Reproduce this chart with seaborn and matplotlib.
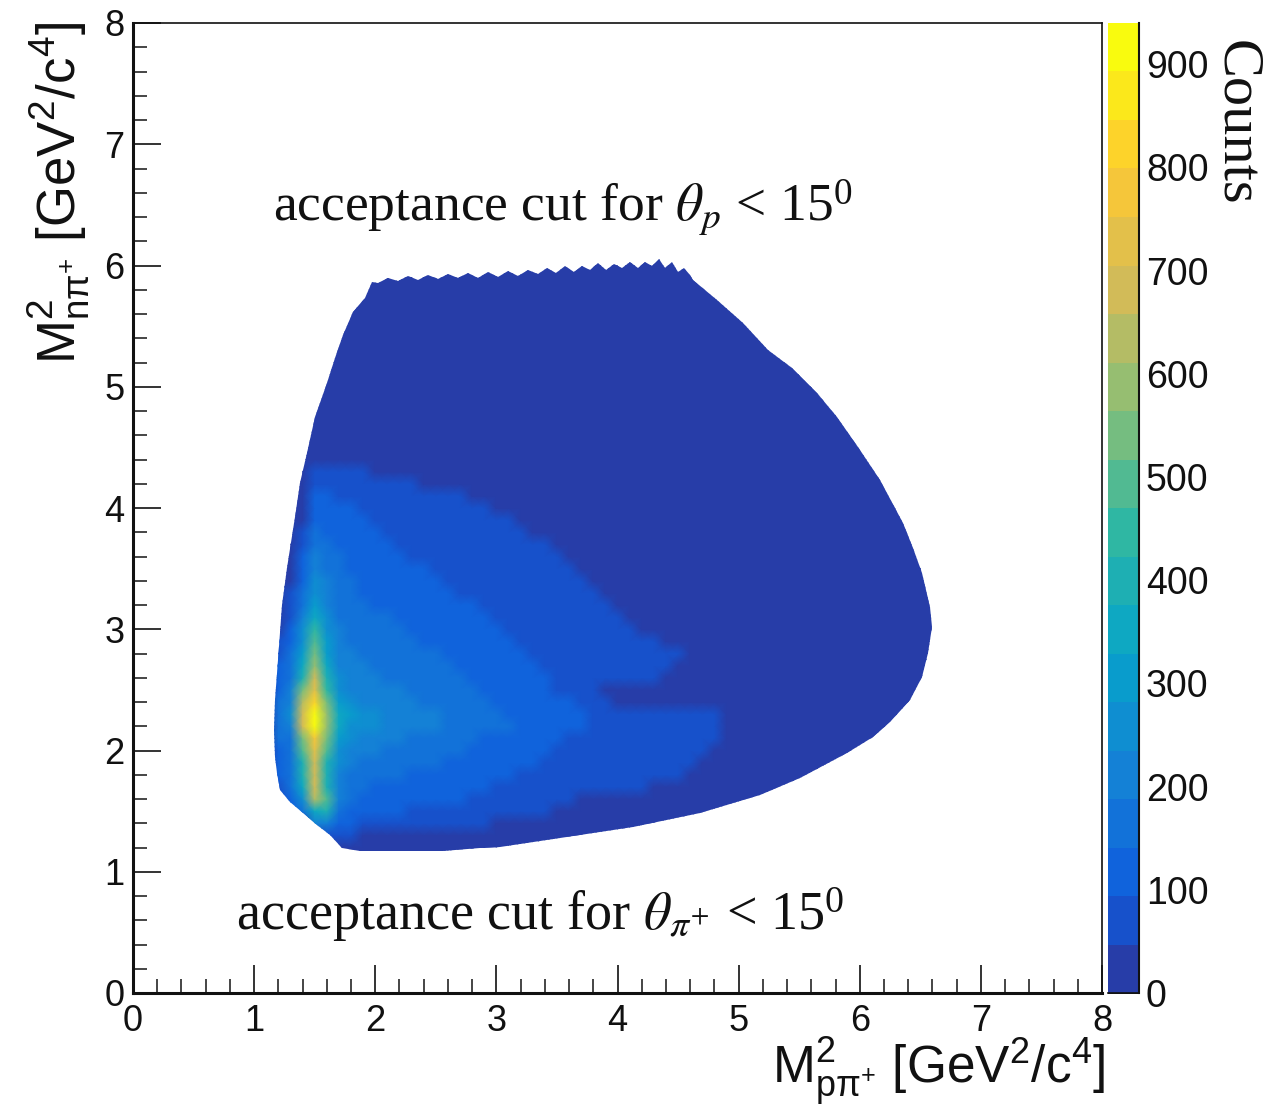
import numpy as np
import pandas as pd
import seaborn as sns
import matplotlib.pyplot as plt

from matplotlib.colors import LinearSegmentedColormap, ListedColormap
from matplotlib.patches import Polygon

# Counts, one list per row, each row starts at x = 1.1, step 0.1
y13 = [15,15,15,15,15,80,60,50,30]
y14 = [15,15,15,15,200,220,130,100,90,85,80,76,72,68,64,60,56,52,48,45]
y15 = [15,15,100,170,350,400,150,120,110,105,100,95,90,86,82,78,74,70,66,62,58,54,50,47,40]
y16 = [15,60,130,250,620,500,190,145,130,125,120,115,110,106,102,98,94,90,85,80,75,70,62,55,50,48,46]
y17 = [15,90,150,330,680,420,200,165,150,140,135,130,125,120,115,110,105,100,96,92,86,80,74,66,60,54,48,48,48,48,47,47,46]
y18 = [15,110,160,380,680,400,215,175,165,155,150,145,140,135,130,125,120,115,108,100,96,90,84,76,70,62,55,50,48,48,48,48,48,47,47,46]
y19 = [15,125,170,400,700,410,235,195,180,170,165,160,155,150,145,140,132,125,118,112,106,100,94,86,78,70,62,54,50,48,48,48,48,48,48,47,46]
y20 = [15,135,175,500,730,500,260,215,200,190,180,175,170,165,160,150,142,135,128,122,116,110,104,96,88,80,72,64,56,50,49,49,49,48,48,48,47,46]
y21 = [15,145,185,560,790,560,300,240,220,210,200,192,186,180,172,165,155,148,140,134,128,122,116,108,100,92,84,76,66,58,52,50,50,50,49,49,48,48,46]
y22 = [15,150,230,680,900,600,340,280,250,235,222,212,205,198,190,180,170,162,155,148,142,136,130,122,114,106,98,90,80,72,64,58,52,48,47,50,52,48]
y23 = [15,150,240,700,930,600,340,285,255,235,222,214,206,198,190,180,170,162,155,148,140,134,128,120,112,104,96,88,78,70,62,56,50,48,47,50,50,47]
y24 = [15,145,215,620,830,520,300,250,225,215,205,198,192,184,176,168,160,152,145,138,132,126,120,112,104,96,86,74,60,46]
y25 = [15,140,190,520,740,460,270,225,210,202,196,188,182,176,168,160,152,146,138,130,124,118,110,102,92,80,68,54,46,40]
y26 = [15,130,175,420,680,400,240,215,200,192,186,180,174,168,160,152,145,138,130,124,118,110,104,96,88,78,70,62,56,54,52,50,48,46]
y27 = [15,110,165,340,590,340,220,200,190,182,176,170,164,156,150,142,135,128,122,116,110,104,96,90,84,76,70,64,58,54,52,50,48,47,46]
y28 = [15,70,150,290,520,310,210,190,180,174,168,162,155,148,142,135,128,122,116,110,104,98,92,86,80,74,68,62,58,54,52,50,49,48,47,46]
y29 = [15,55,130,270,470,290,205,182,172,165,158,152,146,140,134,128,122,116,110,104,98,92,86,80,75,70,64,58,54,50,49,48,47,46]
y30 = [15,40,110,260,430,280,195,175,165,158,150,144,138,132,126,120,115,110,104,98,92,86,80,75,70,65,60,55,50,48,47,46]
y31 = [15,15,90,220,360,250,185,168,156,148,142,136,130,124,118,112,108,102,96,90,85,80,75,70,65,60,55,50,48,47,46]
y32 = [15,15,70,180,320,230,175,160,148,140,134,128,122,116,110,104,100,95,90,85,80,75,70,65,60,55,50,48,47,46]
y33 = [15,15,50,160,280,215,165,150,140,132,126,120,114,108,102,97,92,88,83,78,74,70,65,60,55,50,48,47,46]
y34 = [15,15,30,140,250,200,158,142,132,124,118,112,106,100,95,90,85,80,76,72,68,64,60,55,50,48,47,46]
y35 = [15,15,15,120,225,185,150,135,125,118,112,106,100,95,90,85,80,75,72,68,64,60,56,52,48,47,46]
y36 = [15,15,15,95,200,170,142,128,118,110,104,98,93,88,84,80,75,70,66,62,58,54,50,48,47,46]
y37 = [15,15,15,75,175,155,132,120,110,103,98,92,87,82,78,74,70,66,62,58,54,50,48,47,46]
y38 = [15,15,15,55,150,140,122,112,103,96,90,85,80,76,72,68,64,60,56,52,49,47,46]
y39 = [15,15,15,40,130,125,112,104,96,90,84,79,74,70,66,62,58,54,50,48,47,46]
y40 = [15,15,15,15,115,112,102,95,90,84,78,73,68,64,60,56,52,49,47,46]
y41 = [15,15,15,15,100,100,92,86,80,75,70,65,60,56,52,49,47,46]
y42 = [15,15,15,15,80,88,80,72,66,60,55,50,47,45]
y43 = [15,15,15,15,60,70,62,54,49,46]
y44 = [15,15,15,15,35,45,40]

hot_rows = [y13, y14, y15, y16, y17, y18, y19, y20, y21, y22, y23, y24, y25, y26, y27, y28,
            y29, y30, y31, y32, y33, y34, y35, y36, y37, y38, y39, y40, y41, y42, y43, y44]
background_counts = 15
max_counts = 940

# Outline of the allowed region: lower edge, right side, rough top, left side
edge_x = [1.173, 1.189, 1.214, 1.296, 1.404, 1.519, 1.627, 1.726, 1.874, 2.56, 2.865, 3.03, 3.526, 4.129,
          4.682, 5.178, 5.508, 5.896, 6.11, 6.251, 6.416, 6.515, 6.565, 6.598, 6.581, 6.515,
          6.441, 6.358, 6.169, 6.003, 5.813, 5.648, 5.442, 5.244, 5.037, 4.822, 4.624,
          4.600, 4.550, 4.500, 4.451, 4.393, 4.344, 4.286, 4.228, 4.170, 4.104, 4.038, 3.972, 3.906,
          3.840, 3.774, 3.708, 3.642, 3.567, 3.493, 3.419, 3.344, 3.262, 3.179, 3.097, 3.014, 2.931,
          2.849, 2.766, 2.684, 2.601, 2.519, 2.436, 2.353, 2.271, 2.188, 2.106, 2.023, 1.974,
          1.916, 1.817, 1.734, 1.668, 1.602, 1.503, 1.437, 1.379, 1.338, 1.272, 1.230, 1.197, 1.173, 1.164]
edge_y = [1.946, 1.814, 1.674, 1.575, 1.485, 1.386, 1.303, 1.196, 1.171, 1.171, 1.196, 1.204, 1.278, 1.369,
          1.485, 1.633, 1.773, 1.979, 2.111, 2.235, 2.416, 2.606, 2.804, 3.019, 3.184, 3.464,
          3.67, 3.876, 4.231, 4.478, 4.751, 4.948, 5.155, 5.303, 5.526, 5.715, 5.88,
          5.922, 5.979, 5.946, 6.029, 5.979, 6.054, 5.996, 6.029, 5.979, 6.029, 5.979, 6.012, 5.963,
          6.021, 5.963, 5.996, 5.946, 5.996, 5.938, 5.979, 5.930, 5.963, 5.913, 5.955, 5.905, 5.946,
          5.897, 5.938, 5.897, 5.930, 5.889, 5.922, 5.880, 5.913, 5.872, 5.897, 5.856, 5.864,
          5.732, 5.616, 5.427, 5.237, 5.031, 4.751, 4.454, 4.206, 3.926, 3.505, 3.2, 2.746, 2.416, 2.169]

# ROOT kBird palette
bird = [(0.2082, 0.1664, 0.5293), (0.0592, 0.3599, 0.8684), (0.0780, 0.5041, 0.8385),
        (0.0232, 0.6419, 0.7914), (0.1802, 0.7178, 0.6425), (0.5301, 0.7492, 0.4662),
        (0.8186, 0.7328, 0.3499), (0.9956, 0.7862, 0.1968), (0.9764, 0.9832, 0.0539)]
bird_map = LinearSegmentedColormap.from_list('bird', bird)
contours = ListedColormap([bird_map((i + 1) / 20) for i in range(20)])

counts = np.full((81, 81), background_counts, dtype=float)
for i, row in enumerate(hot_rows):
    counts[13 + i, 11:11 + len(row)] = row
counts_df = pd.DataFrame(counts)

sns.set_style("ticks")
plt.rcParams['font.family'] = ['Liberation Sans']
plt.rcParams['mathtext.fontset'] = 'custom'
plt.rcParams['mathtext.rm'] = 'Liberation Sans'
plt.rcParams['mathtext.it'] = 'Liberation Sans:italic'
plt.rcParams['mathtext.default'] = 'regular'

W, H = 1273, 1106
fig = plt.figure(figsize=(W / 100, H / 100), dpi=100)
ax = fig.add_axes([133 / W, (H - 993) / H, 969 / W, 970 / H])
cax = fig.add_axes([1108 / W, (H - 993) / H, 31 / W, 970 / H])

sns.heatmap(counts_df, ax=ax, cbar_ax=cax, cmap=contours, vmin=0, vmax=max_counts,
            shading='gouraud', cbar_kws={'ticks': range(0, 1000, 100)},
            xticklabels=False, yticklabels=False)

# heatmap works in cell numbers, one cell is 0.1
ax.set_xlim(0, 80)
ax.set_ylim(0, 80)
ax.collections[0].set_clip_path(Polygon(np.column_stack([edge_x, edge_y]) * 10, closed=True,
                                        transform=ax.transData))

ax.set_xlabel('')
ax.set_ylabel('')
ax.set_xticks(range(0, 90, 10), labels=range(9))
ax.set_yticks(range(0, 90, 10), labels=range(9))
ax.set_xticks(range(0, 82, 2), minor=True)
ax.set_yticks(range(0, 82, 2), minor=True)
ax.tick_params(axis='both', which='major', direction='in', length=20, width=1.2, labelsize=26,
               colors='#111111', bottom=True, left=True)
ax.tick_params(axis='x', which='major', pad=8)
ax.tick_params(axis='y', which='major', pad=6)
ax.tick_params(axis='both', which='minor', direction='in', length=10, width=1.2, bottom=True, left=True)
for side in ax.spines:
    ax.spines[side].set_visible(True)
    ax.spines[side].set_color('#111111')
    ax.spines[side].set_linewidth(2.2 if side in ('left', 'bottom') else 1.2)

cbar = ax.collections[0].colorbar
cbar.outline.set_visible(False)
cax.spines['right'].set_visible(True)
cax.spines['right'].set_linewidth(1.5)
cax.spines['right'].set_color('#111111')
cax.spines['bottom'].set_visible(True)
cax.spines['bottom'].set_linewidth(1.2)
cax.spines['bottom'].set_color('#111111')
cax.tick_params(axis='y', direction='in', length=22, width=1.3, labelsize=27, pad=5, colors='#111111')

fig.text(1105 / W, 1 - 1084 / H, r'$M^{2}_{p\pi^{+}}$ [GeV$^{2}$/c$^{4}$]', fontsize=37,
         ha='right', va='baseline', color='#111111')
fig.text(58 / W, 1 - 22 / H, r'$M^{2}_{n\pi^{+}}$ [GeV$^{2}$/c$^{4}$]', fontsize=38,
         rotation=90, ha='center', va='top', color='#111111')

serif = ['Liberation Serif']
fig.text(1236 / W, 1 - 40 / H, 'Counts', fontsize=42, family=serif, rotation=270,
         ha='center', va='top', color='#111111')
fig.text(273 / W, 1 - 220 / H, r'acceptance cut for $\mathit{\theta_{p}}$ < 15$^{0}$', fontsize=38.5,
         family=serif, math_fontfamily='stix', va='baseline', color='#111111')
fig.text(236 / W, 1 - 930 / H, r'acceptance cut for $\mathit{\theta_{\pi^{+}}}$ < 15$^{0}$', fontsize=39,
         family=serif, math_fontfamily='stix', va='baseline', color='#111111')

plt.savefig('out.png', dpi=100)
